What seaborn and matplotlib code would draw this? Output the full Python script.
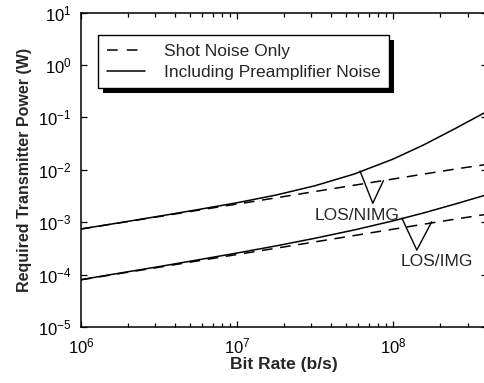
import numpy as np
import pandas as pd
import matplotlib
matplotlib.use("Agg")
import matplotlib.pyplot as plt
import seaborn as sns
from matplotlib.lines import Line2D
from matplotlib.patches import Rectangle
from matplotlib.transforms import IdentityTransform
import matplotlib.ticker as mticker

# ---- data ----
bit_rate = [1.0e6, 1.78e6, 3.16e6, 5.62e6, 1.0e7, 1.78e7, 3.16e7, 5.62e7,
            1.0e8, 1.58e8, 2.51e8, 4.0e8]
nimg_shot = [7.41e-4, 9.75e-4, 1.28e-3, 1.69e-3, 2.22e-3, 2.92e-3, 3.85e-3,
             5.07e-3, 6.67e-3, 8.30e-3, 1.035e-2, 1.27e-2]
nimg_preamp = [7.43e-4, 9.80e-4, 1.30e-3, 1.74e-3, 2.35e-3, 3.30e-3, 4.96e-3,
               8.28e-3, 1.60e-2, 3.01e-2, 6.16e-2, 1.30e-1]
img_shot = [7.94e-5, 1.05e-4, 1.38e-4, 1.83e-4, 2.42e-4, 3.19e-4, 4.21e-4,
            5.56e-4, 7.35e-4, 9.18e-4, 1.146e-3, 1.42e-3]
img_preamp = [8.02e-5, 1.07e-4, 1.42e-4, 1.91e-4, 2.58e-4, 3.53e-4, 4.94e-4,
              7.10e-4, 1.06e-3, 1.51e-3, 2.23e-3, 3.35e-3]

x_major_ticks = [1e6, 1e7, 1e8]
y_major_ticks = [1e-5, 1e-4, 1e-3, 1e-2, 1e-1, 1e0, 1e1]

legend_labels = ["Shot Noise Only", "Including Preamplifier Noise"]
annot_labels = ["LOS/NIMG", "LOS/IMG"]
nimg_pointer_x = [6.14e7, 7.41e7, 8.67e7]
nimg_pointer_y = [9.5e-3, 2.30e-3, 6.2e-3]
img_pointer_x = [1.14e8, 1.42e8, 1.77e8]
img_pointer_y = [1.19e-3, 2.94e-4, 1.02e-3]
nimg_text_xy = (5.9e7, 1.37e-3)
img_text_xy = (1.92e8, 1.74e-4)

# ---- figure ----
sns.set_style("ticks")
plt.rcParams['font.family'] = ['Liberation Sans', 'DejaVu Sans']
plt.rcParams['mathtext.fontset'] = 'custom'
plt.rcParams['mathtext.rm'] = 'Liberation Sans'
plt.rcParams['mathtext.it'] = 'Liberation Sans:italic'
plt.rcParams['mathtext.bf'] = 'Liberation Sans:bold'

W, H = 485, 383
fig = plt.figure(figsize=(W / 100, H / 100), dpi=100)
ax = fig.add_axes([81 / W, 1 - 327 / H, (487 - 81) / W, (327 - 12.6) / H])

df = pd.DataFrame({"rate": bit_rate, "nimg_s": nimg_shot, "nimg_p": nimg_preamp,
                   "img_s": img_shot, "img_p": img_preamp})
lw = 1.1
dash = (0, (7, 5))
for col, ls in [("nimg_s", dash), ("img_s", dash),
                ("nimg_p", "-"), ("img_p", "-")]:
    sns.lineplot(data=df, x="rate", y=col, ax=ax, color="black", linewidth=lw,
                 linestyle=ls, legend=False, sort=False)

ax.set_xscale("log")
ax.set_yscale("log")
ax.set_xlim(1e6, 4e8)
ax.set_ylim(1e-5, 1e1)
ax.xaxis.set_major_locator(mticker.FixedLocator(x_major_ticks))
ax.yaxis.set_major_locator(mticker.FixedLocator(y_major_ticks))
ax.xaxis.set_major_formatter(mticker.LogFormatterSciNotation())
ax.yaxis.set_major_formatter(mticker.LogFormatterSciNotation())
ax.yaxis.set_minor_locator(mticker.NullLocator())
minor_x = [m * d for d in (1e6, 1e7, 1e8) for m in range(2, 10) if m * d <= 4e8]
ax.xaxis.set_minor_locator(mticker.FixedLocator(minor_x))
ax.xaxis.set_minor_formatter(mticker.NullFormatter())
ax.xaxis.get_offset_text().set_visible(False)
ax.yaxis.get_offset_text().set_visible(False)

ax.tick_params(which="both", direction="in", top=True, right=True, colors="black",
               labelsize=12, width=0.9)
ax.tick_params(which="major", length=4, pad=7)
ax.tick_params(which="minor", length=3)
for s in ax.spines.values():
    s.set_color("black")
    s.set_linewidth(1.1)

ax.set_xlabel("Bit Rate (b/s)", fontsize=12.5, fontweight="bold", labelpad=0)
ax.set_ylabel("Required Transmitter Power (W)", fontsize=11.5, fontweight="bold", labelpad=4)

# annotations
ax.plot(nimg_pointer_x, nimg_pointer_y, color="black", linewidth=1.0)
ax.plot(img_pointer_x, img_pointer_y, color="black", linewidth=1.0)
ax.text(*nimg_text_xy, annot_labels[0], ha="center", va="center", fontsize=12.5)
ax.text(*img_text_xy, annot_labels[1], ha="center", va="center", fontsize=12.5)

# legend
handles = [Line2D([], [], color="black", linewidth=lw, linestyle=(0, (7, 6))),
           Line2D([], [], color="black", linewidth=lw, linestyle="-")]
leg = ax.legend(handles, legend_labels, loc="upper left",
                bbox_to_anchor=(98 / W, 1 - 35 / H), bbox_transform=fig.transFigure,
                borderaxespad=0, fancybox=False, frameon=True, fontsize=12.5,
                handlelength=2.2, handletextpad=1.1, labelspacing=0.33,
                borderpad=0.5)
leg.get_frame().set_edgecolor("black")
leg.get_frame().set_linewidth(1.0)
leg.get_frame().set_alpha(1)
leg.set_zorder(6)

fig.canvas.draw()
bb = leg.get_window_extent()
shadow = Rectangle((bb.x0 + 5, bb.y0 - 5), bb.width, bb.height, transform=IdentityTransform(),
                   facecolor="black", edgecolor="none", zorder=5.5)
ax.add_artist(shadow)

fig.savefig("out.png", dpi=100)
